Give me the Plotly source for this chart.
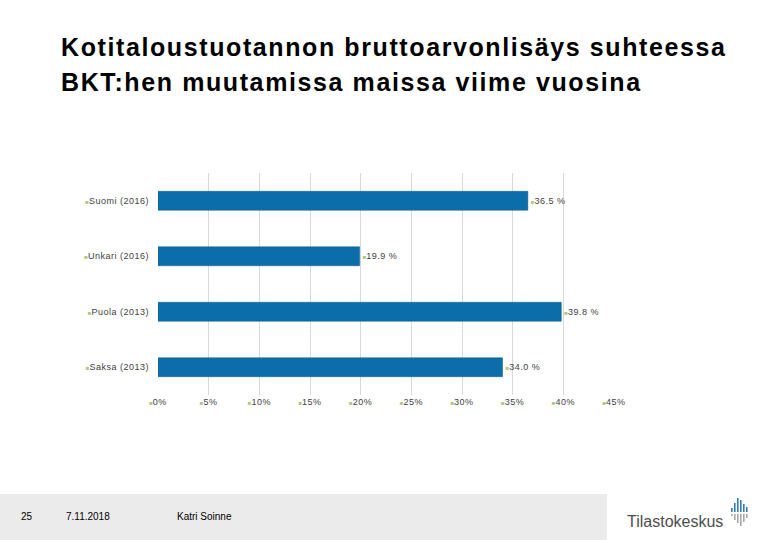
import plotly.graph_objects as go

categories = ["Suomi (2016)", "Unkari (2016)", "Puola (2013)", "Saksa (2013)"]
values = [36.5, 19.9, 39.8, 34.0]
value_labels = ["36.5 %", "19.9 %", "39.8 %", "34.0 %"]
x_ticks = [0, 5, 10, 15, 20, 25, 30, 35, 40, 45]
x_tick_labels = ["0%", "5%", "10%", "15%", "20%", "25%", "30%", "35%", "40%", "45%"]
title_lines = ["Kotitaloustuotannon bruttoarvonlisäys suhteessa",
               "BKT:hen muutamissa maissa viime vuosina"]

W, H = 780, 540
L, R, T, B = 158, 166, 173, 145
pw = W - L - R
ph = H - T - B


def px(x):
    return (x - L) / pw


def py(y):
    return 1 - (y - T) / ph


key = "<span style='color:#b3c77a;font-size:6px'>■</span>"
sp = "<span style='letter-spacing:0.5px'>{}</span>"

fig = go.Figure()
fig.add_trace(go.Bar(
    x=values, y=categories, orientation="h",
    marker=dict(color="#0b6eab", line=dict(color="#0b5a8a", width=0.5)),
    width=0.34,
    text=[key + sp.format(t) for t in value_labels],
    textposition="outside",
    outsidetextfont=dict(family="Liberation Sans, Arial", size=9, color="#404040"),
    cliponaxis=False,
    hoverinfo="skip",
))

fig.update_layout(
    width=W, height=H,
    margin=dict(l=L, r=R, t=T, b=B),
    paper_bgcolor="white", plot_bgcolor="white",
    showlegend=False,
    font=dict(family="Liberation Sans, Arial", size=9, color="#404040"),
    xaxis=dict(
        range=[0, 45], tickvals=x_ticks,
        ticktext=[key + sp.format(t) for t in x_tick_labels],
        showgrid=True, gridcolor="#d9d9d9", gridwidth=1,
        zeroline=False, showline=False, ticks="",
        tickfont=dict(size=9, color="#404040"),
    ),
    yaxis=dict(
        categoryorder="array", categoryarray=categories[::-1],
        tickvals=categories,
        ticktext=[key + sp.format(c) for c in categories],
        showgrid=False, zeroline=False, showline=False, ticks="",
        ticklabelstandoff=8,
        tickfont=dict(size=9, color="#404040"),
    ),
)

# Title (two lines)
for line, yc in zip(title_lines, [47, 82]):
    fig.add_annotation(
        xref="paper", yref="paper", x=px(59), y=py(yc),
        xanchor="left", yanchor="middle", align="left", showarrow=False,
        text="<b><span style='letter-spacing:1.6px'>" + line + "</span></b>",
        font=dict(family="Liberation Sans, Arial", size=25, color="#000000"),
    )

# Footer band
fig.add_shape(type="rect", xref="paper", yref="paper",
              x0=px(0), x1=px(607), y0=py(540), y1=py(494),
              fillcolor="#ebebeb", line=dict(width=0), layer="below")

for txt, x in [("25", 27), ("7.11.2018", 88), ("Katri Soinne", 204)]:
    fig.add_annotation(xref="paper", yref="paper", x=px(x), y=py(516),
                       text=txt, showarrow=False, xanchor="center", yanchor="middle",
                       font=dict(family="Liberation Sans, Arial", size=10, color="#000000"))

fig.add_annotation(xref="paper", yref="paper", x=px(625), y=py(521),
                   text="Tilastokeskus", showarrow=False, xanchor="left", yanchor="middle",
                   font=dict(family="Liberation Sans, Arial", size=16, color="#4d4d4d"))

# logo bars
logo_bars = [(731, 508, 516), (734, 503, 520), (737, 498, 523), (740, 500, 526), (743, 504, 522), (746, 507, 518)]
for x, ytop, ybot in logo_bars:
    fig.add_shape(type="rect", xref="paper", yref="paper",
                  x0=px(x), x1=px(x + 1.6), y0=py(512), y1=py(ytop),
                  fillcolor="#2f7fb8", line=dict(width=0))
    fig.add_shape(type="rect", xref="paper", yref="paper",
                  x0=px(x), x1=px(x + 1.6), y0=py(ybot), y1=py(514),
                  fillcolor="#a6a6a6", line=dict(width=0))

fig.write_html("out.html")
